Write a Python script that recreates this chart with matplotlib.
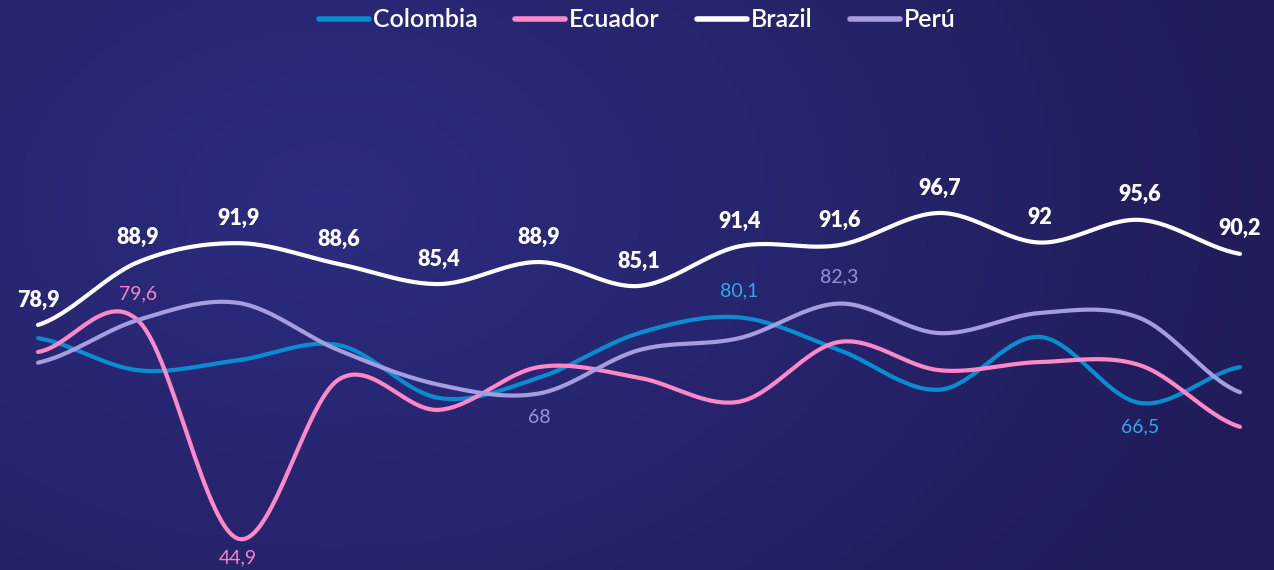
import matplotlib
matplotlib.use("Agg")
import matplotlib.pyplot as plt
import numpy as np
from matplotlib.colors import to_rgb

# Series values (13 periods)
brazil = [78.9, 88.9, 91.9, 88.6, 85.4, 88.9, 85.1, 91.4, 91.6, 96.7, 92, 95.6, 90.2]
colombia = [76.8, 71.7, 73.3, 75.7, 67.3, 70.5, 77.6, 80.1, 74.9, 68.6, 77.0, 66.5, 72.2]
ecuador = [74.6, 79.6, 44.9, 70.2, 65.4, 72.2, 70.5, 66.7, 76.2, 71.7, 73.0, 72.5, 62.7]
peru = [72.9, 79.7, 82.4, 74.9, 69.4, 68.0, 74.9, 76.8, 82.3, 77.6, 80.8, 80.0, 68.2]

# which points carry a label: (index, above?)
colombia_labels = [(7, True), (11, False)]
ecuador_labels = [(1, True), (2, False)]
peru_labels = [(5, False), (8, True)]


def smooth(y, n=30):
    """ Catmull-Rom spline through the points. """
    y = np.asarray(y, dtype=float)
    p = np.concatenate([[y[0]], y, [y[-1]]])
    xs, ys = [], []
    for i in range(len(y) - 1):
        p0, p1, p2, p3 = p[i], p[i + 1], p[i + 2], p[i + 3]
        t = np.linspace(0, 1, n, endpoint=False)
        v = 0.5 * ((2 * p1) + (-p0 + p2) * t
                   + (2 * p0 - 5 * p1 + 4 * p2 - p3) * t ** 2
                   + (-p0 + 3 * p1 - 3 * p2 + p3) * t ** 3)
        xs.append(i + t)
        ys.append(v)
    xs.append([len(y) - 1])
    ys.append([y[-1]])
    return np.concatenate(xs), np.concatenate(ys)


def fmt(v):
    s = ("%g" % v)
    return s.replace(".", ",")


fig = plt.figure(figsize=(12.74, 5.7), dpi=100)

# background radial gradient
bg = fig.add_axes([0, 0, 1, 1])
gx, gy = np.meshgrid(np.linspace(0, 1274, 400), np.linspace(0, 570, 200))
r = np.sqrt(((gx - 330) / 1000) ** 2 + ((gy - 200) / 700) ** 2)
r = np.clip(r, 0, 1)
inner = np.array(to_rgb("#2c2c80"))
outer = np.array(to_rgb("#201c58"))
img = inner[None, None, :] * (1 - r[..., None]) + outer[None, None, :] * r[..., None]
bg.imshow(img, extent=[0, 1274, 570, 0], aspect="auto")
bg.set_axis_off()

ax = fig.add_axes([0, 0, 1, 1])
ax.set_facecolor("none")
x = np.arange(len(brazil))
ax.set_xlim(-38 / 100.17, 12 + 34 / 100.17)
ax.set_ylim(39.94, 130.56)
ax.set_axis_off()

series = [
    ("Colombia", colombia, "#0a8dd0"),
    ("Ecuador", ecuador, "#ff88c8"),
    ("Brazil", brazil, "#ffffff"),
    ("Perú", peru, "#a59de0"),
]
for name, vals, col in series:
    sx, sy = smooth(vals)
    ax.plot(sx, sy, color=col, lw=3.0, solid_capstyle="round", label=name)

for i, v in enumerate(brazil):
    ax.annotate(fmt(v), (x[i], v), xytext=(0, 18), textcoords="offset points",
                ha="center", va="center", color="white", fontsize=15.5,
                fontweight="heavy", family="Lato")

# (values, labelled points, colour, offset below in points)
label_sets = [
    (colombia, colombia_labels, "#35a6ea", -17),
    (ecuador, ecuador_labels, "#f585c5", -14),
    (peru, peru_labels, "#9a93d6", -17),
]
for vals, labs, col, below in label_sets:
    for i, above in labs:
        off = 19 if above else below
        ax.annotate(fmt(vals[i]), (x[i], vals[i]), xytext=(0, off),
                    textcoords="offset points", ha="center", va="center",
                    color=col, fontsize=14, fontweight="normal", family="Lato")

leg = ax.legend(loc="upper center", bbox_to_anchor=(0.5, 1.025), ncol=4,
                frameon=False, handlelength=2.0, handletextpad=0.15,
                columnspacing=1.5, prop={"family": "Lato", "size": 18,
                                         "weight": "semibold"})
for t in leg.get_texts():
    t.set_color("white")
for h in leg.legend_handles:
    h.set_linewidth(4)

plt.savefig("out.png", dpi=100)
